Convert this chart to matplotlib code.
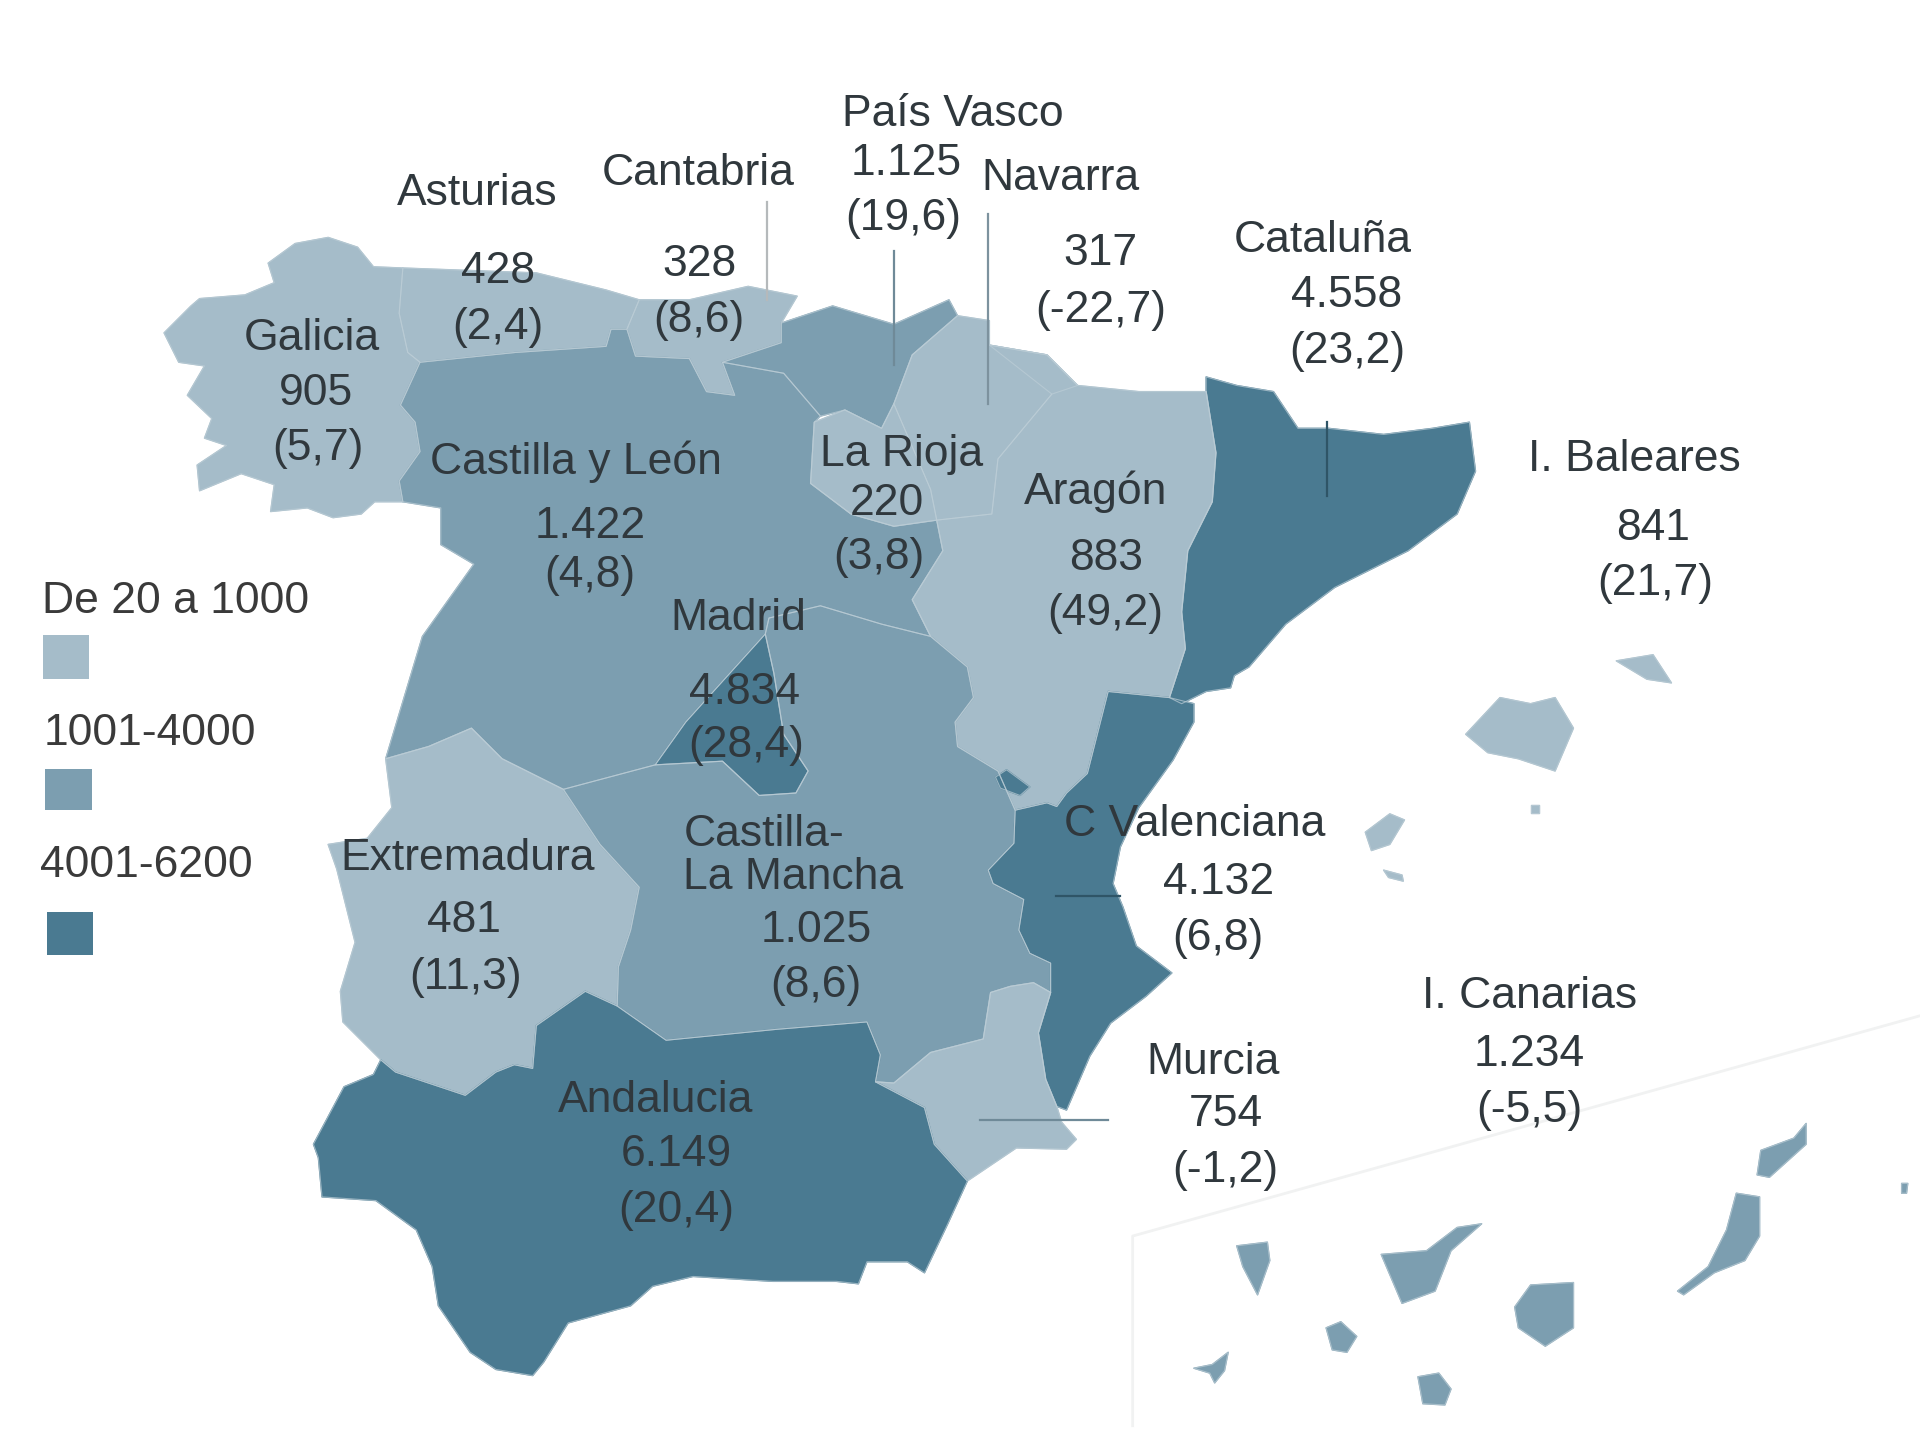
"""
Mapa de Espana por comunidades, coloreado por tramos.
"""
import numpy as np
import matplotlib
matplotlib.use('Agg')
import matplotlib.pyplot as plt
from matplotlib.colors import ListedColormap, BoundaryNorm
from matplotlib.patches import Polygon, Rectangle

plt.rcParams['font.family'] = ['Liberation Sans', 'DejaVu Sans']

# datos
regions = ['Galicia', 'Asturias', 'Cantabria', 'País Vasco', 'Navarra', 'Cataluña',
           'Castilla y León', 'La Rioja', 'Aragón', 'I. Baleares', 'Madrid', 'Extremadura',
           'Castilla-\nLa Mancha', 'C Valenciana', 'Murcia', 'Andalucia', 'I. Canarias']
values = [905, 428, 328, 1125, 317, 4558, 1422, 220, 883, 841, 4834, 481, 1025, 4132, 754, 6149, 1234]
changes = [5.7, 2.4, 8.6, 19.6, -22.7, 23.2, 4.8, 3.8, 49.2, 21.7, 28.4, 11.3, 8.6, 6.8, -1.2, 20.4, -5.5]

bin_edges = [20, 1001, 4001, 6201]
bin_labels = ['De 20 a 1000', '1001-4000', '4001-6200']
bin_samples = [500, 2000, 5000]

# contornos del mapa, en pixeles de la imagen
outlines = {
    'Castilla y León': [[(327, 331), (343, 296), (421, 288), (495, 283), (499, 269), (512, 269), (519, 291),
                         (563, 293), (577, 320), (600, 323), (590, 296), (640, 305), (670, 340), (665, 345),
                         (662, 395), (695, 420), (730, 430), (765, 425), (770, 450), (745, 490), (760, 520),
                         (720, 510), (670, 495), (628, 505), (625, 518), (560, 590), (535, 625), (460, 645),
                         (410, 620), (385, 595), (350, 610), (315, 620), (330, 570), (345, 520), (387, 461),
                         (360, 445), (360, 415), (329, 410), (326, 393), (343, 369), (339, 345)]],
    'Galicia': [[(134, 272), (156, 250), (163, 244), (200, 241), (224, 231), (219, 215), (241, 199),
                 (268, 194), (292, 202), (305, 218), (329, 219), (326, 256), (333, 288), (343, 296),
                 (327, 331), (339, 345), (343, 369), (326, 393), (329, 410), (306, 410), (295, 420),
                 (272, 423), (251, 415), (221, 418), (224, 396), (197, 387), (163, 401), (161, 380),
                 (185, 364), (167, 358), (173, 342), (153, 323), (167, 299), (146, 296)]],
    'Asturias': [[(329, 219), (438, 223), (495, 237), (522, 245), (512, 269), (499, 269), (495, 283),
                  (421, 288), (343, 296), (333, 288), (326, 256)]],
    'Cantabria': [[(522, 245), (563, 245), (611, 234), (651, 242), (638, 264), (638, 280), (590, 296),
                   (600, 323), (577, 320), (563, 293), (519, 291), (512, 269)]],
    'País Vasco': [[(638, 264), (680, 250), (730, 265), (775, 245), (782, 258), (745, 290), (730, 330),
                    (720, 350), (690, 335), (670, 340), (640, 305), (590, 296), (638, 280)]],
    'Navarra': [[(782, 258), (808, 262), (808, 282), (855, 290), (880, 315), (859, 322), (815, 375),
                 (810, 420), (765, 425), (760, 400), (730, 330), (745, 290)]],
    'La Rioja': [[(665, 345), (690, 335), (720, 350), (730, 330), (760, 400), (765, 425), (730, 430),
                  (695, 420), (662, 395)]],
    'Aragón': [[(808, 282), (855, 290), (880, 315), (930, 320), (985, 320), (993, 370), (990, 410),
                (970, 450), (965, 500), (968, 530), (955, 570), (905, 565), (888, 632), (871, 648),
                (863, 659), (855, 656), (829, 662), (815, 630), (782, 610), (780, 590), (795, 570),
                (790, 545), (760, 520), (745, 490), (770, 450), (765, 425), (810, 420), (815, 375),
                (859, 322)]],
    'Cataluña': [[(985, 308), (1010, 315), (1040, 320), (1060, 350), (1085, 350), (1130, 355), (1170, 350),
                  (1200, 345), (1205, 385), (1190, 420), (1150, 450), (1090, 480), (1050, 510), (1020, 545),
                  (1008, 552), (1005, 562), (985, 565), (965, 575), (955, 570), (968, 530), (965, 500),
                  (970, 450), (990, 410), (993, 370), (985, 320)]],
    'C Valenciana': [[(905, 565), (955, 570), (975, 575), (975, 590), (958, 621), (930, 660), (915, 692),
                      (909, 722), (917, 741), (928, 773), (957, 795), (936, 814), (907, 836), (890, 863),
                      (871, 907), (863, 904), (854, 882), (848, 844), (858, 811), (858, 787), (841, 779),
                      (832, 760), (836, 735), (811, 722), (807, 711), (828, 689), (829, 662), (855, 656),
                      (863, 659), (871, 648), (888, 632)],
                     [(813, 635), (822, 629), (841, 643), (833, 650), (817, 644)]],
    'Murcia': [[(730, 885), (760, 860), (803, 849), (809, 811), (825, 806), (844, 803), (858, 811),
                (848, 844), (854, 882), (863, 904), (867, 917), (879, 931), (871, 939), (830, 938),
                (790, 965), (763, 935), (755, 905), (715, 884)]],
    'Andalucia': [[(256, 935), (281, 888), (305, 878), (311, 866), (323, 876), (380, 895), (405, 876),
                   (420, 870), (435, 873), (438, 838), (478, 810), (504, 822), (544, 850), (635, 841),
                   (708, 835), (719, 862), (715, 884), (755, 905), (763, 935), (790, 965), (774, 1000),
                   (755, 1040), (741, 1031), (708, 1031), (701, 1049), (683, 1047), (631, 1047),
                   (566, 1043), (533, 1051), (515, 1067), (464, 1081), (444, 1113), (435, 1124),
                   (405, 1119), (384, 1105), (358, 1067), (353, 1035), (340, 1005), (307, 981),
                   (263, 978), (260, 946)]],
    'Extremadura': [[(315, 620), (350, 610), (385, 595), (410, 620), (460, 645), (490, 690), (522, 725),
                     (515, 760), (505, 790), (504, 822), (478, 810), (438, 838), (435, 873), (420, 870),
                     (405, 876), (380, 895), (323, 876), (311, 866), (280, 835), (278, 810), (290, 770),
                     (275, 710), (268, 690), (300, 685), (320, 660)]],
    'Castilla-\nLa Mancha': [[(460, 645), (535, 625), (590, 622), (620, 650), (650, 648), (660, 630),
                              (640, 600), (632, 550), (625, 518), (628, 505), (670, 495), (720, 510),
                              (760, 520), (790, 545), (795, 570), (780, 590), (782, 610), (815, 630),
                              (829, 662), (828, 689), (807, 711), (811, 722), (836, 735), (832, 760),
                              (841, 779), (858, 787), (858, 811), (844, 803), (825, 806), (809, 811),
                              (803, 849), (760, 860), (730, 885), (715, 884), (719, 862), (708, 835),
                              (635, 841), (544, 850), (504, 822), (505, 790), (515, 760), (522, 725),
                              (490, 690)]],
    'Madrid': [[(625, 518), (632, 550), (640, 600), (660, 630), (650, 648), (620, 650), (590, 622),
                (535, 625), (560, 590)]],
    'I. Baleares': [[(1197, 600), (1225, 570), (1250, 575), (1270, 570), (1285, 595), (1270, 630),
                     (1240, 620), (1215, 615)],
                    [(1320, 540), (1350, 535), (1365, 558), (1345, 555)],
                    [(1115, 680), (1135, 665), (1147, 670), (1135, 690), (1120, 695)],
                    [(1130, 711), (1145, 715), (1146, 720), (1134, 717)],
                    [(1250, 658), (1257, 658), (1257, 664), (1250, 664)]],
    'I. Canarias': [[(1010, 1018), (1035, 1015), (1037, 1030), (1027, 1058), (1015, 1035)],
                    [(1128, 1025), (1165, 1022), (1190, 1003), (1210, 1000), (1185, 1022), (1172, 1055),
                     (1145, 1065)],
                    [(1083, 1085), (1095, 1080), (1108, 1092), (1100, 1105), (1088, 1103)],
                    [(975, 1118), (990, 1115), (1003, 1105), (1000, 1120), (992, 1130), (988, 1122)],
                    [(1158, 1125), (1175, 1122), (1185, 1135), (1180, 1148), (1162, 1147)],
                    [(1250, 1050), (1285, 1048), (1285, 1085), (1262, 1100), (1240, 1085), (1237, 1068)],
                    [(1418, 975), (1437, 978), (1437, 1010), (1425, 1030), (1400, 1040), (1375, 1058),
                     (1370, 1055), (1395, 1035), (1410, 1005)],
                    [(1438, 940), (1465, 930), (1475, 918), (1475, 935), (1445, 962), (1435, 960)],
                    [(1553, 967), (1558, 967), (1557, 975), (1553, 975)]],
}

# posicion de cada linea: nombre, valor, variacion
label_pos = {
    'Galicia': [(255, 273), (258, 318), (260, 363)],
    'Asturias': [(390, 155), (407, 218), (407, 264)],
    'Cantabria': [(570, 138), (571, 213), (571, 258)],
    'País Vasco': [(778, 90), (740, 130), (738, 175)],
    'Navarra': [(866, 142), (899, 204), (899, 250)],
    'Cataluña': [(1080, 193), (1100, 238), (1100, 284)],
    'Castilla y León': [(470, 374), (482, 427), (482, 467)],
    'La Rioja': [(736, 368), (724, 408), (718, 452)],
    'Aragón': [(895, 398), (903, 453), (903, 498)],
    'I. Baleares': [(1335, 372), (1350, 428), (1352, 473)],
    'Madrid': [(603, 502), (608, 562), (609, 606)],
    'Extremadura': [(382, 698), (379, 749), (380, 795)],
    'Castilla-\nLa Mancha': [(648, 696), (667, 757), (666, 802)],
    'C Valenciana': [(976, 670), (995, 718), (995, 763)],
    'Murcia': [(991, 865), (1001, 907), (1001, 953)],
    'Andalucia': [(535, 896), (552, 940), (552, 986)],
    'I. Canarias': [(1249, 811), (1249, 858), (1249, 904)],
}

leaders = [((626, 165), (626, 245), '#b5b9bb'), ((730, 205), (730, 298), '#6f8a98'),
           ((807, 175), (807, 330), '#7d929e'), ((1084, 345), (1084, 405), '#2f5567'),
           ((862, 732), (915, 732), '#2f5567'), ((800, 915), (905, 915), '#6f8a98')]

swatches = [(35, 519, 38, 36), (37, 628, 38, 34), (38, 745, 38, 35)]
legend_text = [(34, 488), (36, 596), (33, 704)]

cmap = ListedColormap(['#a5bcc9', '#7c9eb0', '#4a7a91'])
norm = BoundaryNorm(bin_edges, cmap.N)

W, H = 1568, 1184
fig = plt.figure(figsize=(19.2, 14.49), dpi=100)
ax = fig.add_axes([0, 0, 1, 1])
ax.set_xlim(0, W)
ax.set_ylim(H, 0)
ax.axis('off')

# marco de Canarias, casi invisible
ax.plot([1568, 925, 925], [830, 1010, 1165], color='#f1f2f2', lw=2, zorder=1)

for region, value in zip(regions, values):
    for part in outlines[region]:
        ax.add_patch(Polygon(part, closed=True, facecolor=cmap(norm(value)),
                             edgecolor=cmap(norm(value)), lw=1.0, joinstyle='round', zorder=2))

# los limites claros se dibujan al final, encima de todos los rellenos
for region in outlines:
    for part in outlines[region]:
        ax.add_patch(Polygon(part, closed=True, facecolor='none', edgecolor='#bccdd6',
                             lw=0.8, alpha=0.7, joinstyle='round', zorder=2.5))

for start, end, color in leaders:
    ax.plot([start[0], end[0]], [start[1], end[1]], color=color, lw=1.6, zorder=3)


def fmt_value(v):
    return f'{v:,}'.replace(',', '.')


def fmt_change(c):
    return f'({c:.1f})'.replace('.', ',')


style = dict(fontsize=32, color='#30383d', ha='center', va='center', zorder=4)
dy = 3.5  # el centro de linea de matplotlib queda algo alto
for region, value, change in zip(regions, values, changes):
    name_xy, value_xy, change_xy = label_pos[region]
    if '\n' in region:
        ax.text(558, name_xy[1] + dy, region, linespacing=1.05, **{**style, 'ha': 'left'})
    else:
        ax.text(name_xy[0], name_xy[1] + dy, region, **style)
    ax.text(value_xy[0], value_xy[1] + dy, fmt_value(value), **style)
    ax.text(change_xy[0], change_xy[1] + dy, fmt_change(change), **style)

for label, sample, box, pos in zip(bin_labels, bin_samples, swatches, legend_text):
    ax.add_patch(Rectangle(box[:2], box[2], box[3], facecolor=cmap(norm(sample)), edgecolor='none'))
    ax.text(pos[0], pos[1] + dy, label, fontsize=32, color='#3a3a3a', ha='left', va='center')

fig.savefig('out.png', dpi=100, facecolor='white')
